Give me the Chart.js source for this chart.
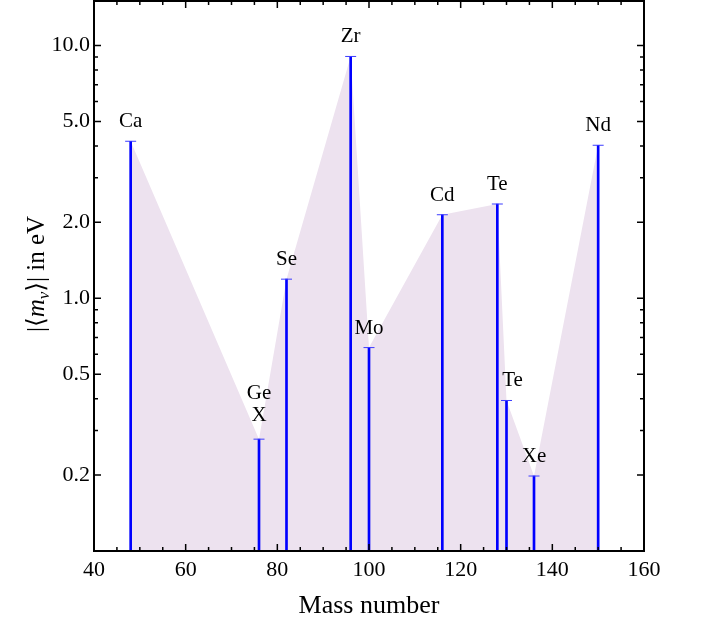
<!DOCTYPE html>
<html>
<head>
<meta charset="utf-8">
<script src="https://cdn.jsdelivr.net/npm/chart.js@4.4.0/dist/chart.umd.min.js"></script>
<style>
  html, body { margin: 0; padding: 0; background: #fff; }
</style>
</head>
<body>
<canvas id="chart" width="702" height="619"></canvas>
<script>
// Neutrinoless double beta decay limits per isotope
const massNumbers = [48, 76, 82, 96, 100, 116, 128, 130, 136, 150];
const elements = ['Ca', 'Ge\nX', 'Se', 'Zr', 'Mo', 'Cd', 'Te', 'Te', 'Xe', 'Nd'];
const massLimits = [4.18, 0.277, 1.19, 9.05, 0.638, 2.14, 2.36, 0.394, 0.198, 4.03];

const xTicks = [40, 60, 80, 100, 120, 140, 160];
const xMinorTicks = [45, 50, 55, 65, 70, 75, 85, 90, 95, 105, 110, 115, 125, 130, 135, 145, 150, 155];
const yTicks = [0.2, 0.5, 1, 2, 5, 10];
const yMinorTicks = [0.3, 0.4, 0.6, 0.7, 0.8, 0.9, 3, 4, 6, 7, 8, 9];

const SERIF = '"Liberation Serif", "DejaVu Serif", serif';
const points = massNumbers.map((m, i) => ({ x: m, y: massLimits[i] }));

// frame with inward ticks, point labels and axis titles
const framePlugin = {
  id: 'frame',
  afterDatasetsDraw(chart) {
    const { ctx, chartArea: a, scales: { x, y } } = chart;
    ctx.save();

    // labels above the stems
    ctx.fillStyle = '#000';
    ctx.font = '21px ' + SERIF;
    ctx.textAlign = 'center';
    ctx.textBaseline = 'alphabetic';
    massNumbers.forEach((m, i) => {
      const shift = i === 7 ? 6 : 0; // second Te nudged right
      const px = x.getPixelForValue(m) + shift;
      const lines = elements[i].split('\n');
      const py = y.getPixelForValue(massLimits[i]) - (lines.length > 1 ? 18 : 14);
      lines.forEach((t, k) => ctx.fillText(t, px, py - (lines.length - 1 - k) * 22));
    });

    // frame
    ctx.strokeStyle = '#000';
    ctx.lineWidth = 2;
    ctx.strokeRect(a.left, a.top, a.right - a.left, a.bottom - a.top);

    // ticks
    ctx.lineWidth = 1.5;
    ctx.beginPath();
    const xt = (v, len) => {
      const p = x.getPixelForValue(v);
      ctx.moveTo(p, a.bottom); ctx.lineTo(p, a.bottom - len);
      ctx.moveTo(p, a.top); ctx.lineTo(p, a.top + len);
    };
    const yt = (v, len) => {
      const p = y.getPixelForValue(v);
      ctx.moveTo(a.left, p); ctx.lineTo(a.left + len, p);
      ctx.moveTo(a.right, p); ctx.lineTo(a.right - len, p);
    };
    xTicks.forEach(v => xt(v, 7));
    xMinorTicks.forEach(v => xt(v, 4));
    yTicks.forEach(v => yt(v, 7));
    yMinorTicks.forEach(v => yt(v, 4));
    ctx.stroke();

    // x title
    ctx.font = '26px ' + SERIF;
    ctx.textAlign = 'center';
    ctx.fillText('Mass number', (a.left + a.right) / 2, 613);

    // y title: |<m_nu>| in eV
    const parts = [
      { t: '|\u27E8', f: '25px ' + SERIF, dy: 0 },
      { t: 'm', f: 'italic 25px ' + SERIF, dy: 0 },
      { t: '\u03BD', f: 'italic 17px ' + SERIF, dy: 5 },
      { t: '\u27E9| in eV', f: '25px ' + SERIF, dy: 0 }
    ];
    let total = 0;
    parts.forEach(p => { ctx.font = p.f; p.w = ctx.measureText(p.t).width; total += p.w; });
    ctx.translate(44, 274);
    ctx.rotate(-Math.PI / 2);
    ctx.textAlign = 'left';
    let cx = -total / 2;
    parts.forEach(p => {
      ctx.font = p.f;
      ctx.fillText(p.t, cx, p.dy);
      cx += p.w;
    });
    ctx.restore();
  }
};

new Chart(document.getElementById('chart'), {
  type: 'bar',
  data: {
    datasets: [
      {
        type: 'scatter',
        data: points,
        pointStyle: 'line',
        pointRadius: 5.5,
        borderColor: '#3c3cff',
        borderWidth: 1,
        order: 0
      },
      {
        type: 'bar',
        data: points,
        backgroundColor: '#0000ff',
        barThickness: 2,
        order: 1
      },
      {
        type: 'line',
        data: points,
        fill: 'start',
        backgroundColor: '#ede2ef',
        borderWidth: 0,
        pointRadius: 0,
        tension: 0,
        order: 2
      }
    ]
  },
  options: {
    responsive: false,
    animation: false,
    devicePixelRatio: 1,
    layout: { autoPadding: false, padding: { top: 1, right: 58, left: 0, bottom: 0 } },
    plugins: {
      legend: { display: false },
      tooltip: { enabled: false }
    },
    scales: {
      x: {
        type: 'linear',
        min: 40,
        max: 160,
        offset: false,
        grid: { display: false, drawTicks: false },
        border: { display: false },
        afterBuildTicks: s => { s.ticks = xTicks.map(v => ({ value: v })); },
        afterFit: s => { s.height = 68; s.paddingLeft = 0; s.paddingRight = 0; },
        ticks: {
          font: { family: SERIF, size: 22 },
          color: '#000',
          padding: 6,
          maxRotation: 0,
          autoSkip: false
        }
      },
      y: {
        type: 'logarithmic',
        min: 0.1,
        max: 15,
        grid: { display: false, drawTicks: false },
        border: { display: false },
        afterBuildTicks: s => { s.ticks = yTicks.map(v => ({ value: v })); },
        afterFit: s => { s.width = 94; s.paddingTop = 0; s.paddingBottom = 0; },
        ticks: {
          font: { family: SERIF, size: 22 },
          color: '#000',
          padding: 4,
          autoSkip: false,
          callback: v => Number(v).toFixed(1)
        }
      }
    }
  },
  plugins: [framePlugin]
});
</script>
</body>
</html>
